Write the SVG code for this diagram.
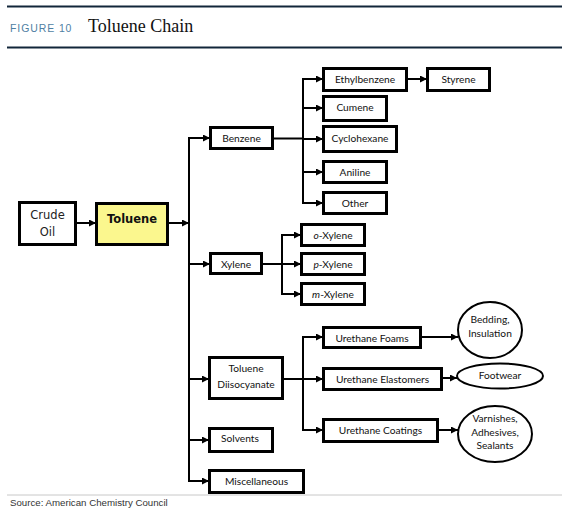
<svg xmlns="http://www.w3.org/2000/svg" width="565" height="512" viewBox="0 0 565 512">
<style>
.box{fill:#fff;stroke:#000;stroke-width:3}
.ell{fill:#fff;stroke:#000;stroke-width:2}
.t{font-family:Lato,"Open Sans",sans-serif;font-size:10.2px;fill:#111;text-anchor:middle}
.c{fill:none;stroke:#000;stroke-width:2}
</style>
<defs>
<marker id="ah" markerUnits="userSpaceOnUse" markerWidth="8" markerHeight="7" refX="7" refY="3.5" orient="auto">
<path d="M0,0 L7,3.5 L0,7 z" fill="#000"/>
</marker>
</defs>
<rect width="565" height="512" fill="#fff"/>
<g id="header">
<line x1="7" y1="6.5" x2="562" y2="6.5" stroke="#12263a" stroke-width="2"/>
<text x="10" y="32" font-family="Liberation Sans,Arial,sans-serif" font-size="10.5" letter-spacing="0.9" fill="#4f7fa3">FIGURE 10</text>
<text x="88" y="32" font-family="Liberation Serif,Times New Roman,serif" font-size="18" fill="#111">Toluene Chain</text>
<line x1="7" y1="47.5" x2="562" y2="47.5" stroke="#12263a" stroke-width="2"/>
</g>
<g id="footer">
<line x1="7" y1="495" x2="562" y2="495" stroke="#c8c8c8" stroke-width="1"/>
<text x="10" y="506" font-family="Liberation Sans,Arial,sans-serif" font-size="9.7" fill="#333">Source: American Chemistry Council</text>
</g>
<g id="connectors">
<path class="c" d="M76,223 H96" marker-end="url(#ah)"/>
<path class="c" d="M168,223 H189" marker-end="url(#ah)"/>
<path class="c" d="M189,482 V138 H210" marker-end="url(#ah)"/>
<path class="c" d="M189,264 H210" marker-end="url(#ah)"/>
<path class="c" d="M189,379 H209" marker-end="url(#ah)"/>
<path class="c" d="M189,440 H209" marker-end="url(#ah)"/>
<path class="c" d="M188,481 H209" marker-end="url(#ah)"/>
<path class="c" d="M273,138.5 H303" stroke-width="3"/>
<path class="c" d="M323,79 H303 V203 H323" marker-end="url(#ah)"/>
<path class="c" d="M303,79 H323" marker-end="url(#ah)"/>
<path class="c" d="M303,108 H323" marker-end="url(#ah)"/>
<path class="c" d="M303,139 H323" marker-end="url(#ah)"/>
<path class="c" d="M303,172 H323" marker-end="url(#ah)"/>
<path class="c" d="M407,79 H427" marker-end="url(#ah)"/>
<path class="c" d="M262,264 H282"/>
<path class="c" d="M301,235 H282 V294 H301" marker-end="url(#ah)"/>
<path class="c" d="M282,235 H301" marker-end="url(#ah)"/>
<path class="c" d="M282,264 H301" marker-end="url(#ah)"/>
<path class="c" d="M283,379 H303"/>
<path class="c" d="M323,337 H303 V430 H323" marker-end="url(#ah)"/>
<path class="c" d="M303,337 H323" marker-end="url(#ah)"/>
<path class="c" d="M303,379 H323" marker-end="url(#ah)"/>
<path class="c" d="M421,337 H458" marker-end="url(#ah)"/>
<path class="c" d="M442,378 H457" marker-end="url(#ah)"/>
<path class="c" d="M438,430 H458" marker-end="url(#ah)"/>
</g>
<g id="crude-oil">
<rect class="box" x="19.5" y="202.5" width="56" height="42"/>
<text x="47.5" y="219" font-family="DejaVu Sans,Verdana,sans-serif" font-size="11.5" fill="#222" text-anchor="middle">Crude</text>
<text x="47.5" y="236" font-family="DejaVu Sans,Verdana,sans-serif" font-size="11.5" fill="#222" text-anchor="middle">Oil</text>
</g>
<g id="toluene">
<rect x="96.5" y="203.5" width="71" height="41" fill="#fbf78e" stroke="#000" stroke-width="3"/>
<text x="132" y="223" font-family="DejaVu Sans,Verdana,sans-serif" font-size="11.5" font-weight="bold" fill="#111" text-anchor="middle">Toluene</text>
</g>
<g id="benzene"><rect class="box" x="210.5" y="127.5" width="62" height="21"/><text class="t" x="241.5" y="142">Benzene</text></g>
<g id="ethylbenzene"><rect class="box" x="323.5" y="68.5" width="83" height="22"/><text class="t" x="365" y="83">Ethylbenzene</text></g>
<g id="styrene"><rect class="box" x="427.5" y="68.5" width="62" height="22"/><text class="t" x="458.5" y="83">Styrene</text></g>
<g id="cumene"><rect class="box" x="323.5" y="96.5" width="63" height="24"/><text class="t" x="355" y="111">Cumene</text></g>
<g id="cyclohexane"><rect class="box" x="323.5" y="126.5" width="73" height="25"/><text class="t" x="360" y="142">Cyclohexane</text></g>
<g id="aniline"><rect class="box" x="323.5" y="161.5" width="63" height="21"/><text class="t" x="355" y="176">Aniline</text></g>
<g id="other"><rect class="box" x="323.5" y="192.5" width="63" height="21"/><text class="t" x="355" y="207">Other</text></g>
<g id="xylene"><rect class="box" x="210.5" y="253.5" width="51" height="20"/><text class="t" x="236" y="267.5">Xylene</text></g>
<g id="o-xylene"><rect class="box" x="301.5" y="224.5" width="63" height="21"/><text class="t" x="333" y="239"><tspan font-style="italic">o</tspan>-Xylene</text></g>
<g id="p-xylene"><rect class="box" x="301.5" y="253.5" width="63" height="21"/><text class="t" x="333" y="268"><tspan font-style="italic">p</tspan>-Xylene</text></g>
<g id="m-xylene"><rect class="box" x="301.5" y="283.5" width="63" height="21"/><text class="t" x="333" y="298"><tspan font-style="italic">m</tspan>-Xylene</text></g>
<g id="tdi"><rect class="box" x="209.5" y="357.5" width="73" height="41"/><text class="t" x="246" y="372">Toluene</text><text class="t" x="246" y="388">Diisocyanate</text></g>
<g id="solvents"><rect class="box" x="209.5" y="428.5" width="63" height="23"/><text class="t" x="240" y="442">Solvents</text></g>
<g id="miscellaneous"><rect class="box" x="209.5" y="470.5" width="94" height="22"/><text class="t" x="256.5" y="485">Miscellaneous</text></g>
<g id="urethane-foams"><rect class="box" x="323.5" y="327.5" width="97" height="20"/><text class="t" x="372" y="341.5">Urethane Foams</text></g>
<g id="urethane-elastomers"><rect class="box" x="323.5" y="368.5" width="118" height="21"/><text class="t" x="382.5" y="383">Urethane Elastomers</text></g>
<g id="urethane-coatings"><rect class="box" x="323.5" y="419.5" width="114" height="22"/><text class="t" x="380.5" y="434">Urethane Coatings</text></g>
<g id="bedding"><ellipse class="ell" cx="490" cy="330" rx="32" ry="28"/><text class="t" x="490" y="323">Bedding,</text><text class="t" x="490" y="337">Insulation</text></g>
<g id="footwear"><ellipse class="ell" cx="500" cy="376" rx="43" ry="12.5"/><text class="t" x="500" y="379">Footwear</text></g>
<g id="varnishes"><ellipse class="ell" cx="495" cy="434" rx="37" ry="28"/><text class="t" x="495" y="422">Varnishes,</text><text class="t" x="495" y="435.5">Adhesives,</text><text class="t" x="495" y="449">Sealants</text></g>
</svg>
